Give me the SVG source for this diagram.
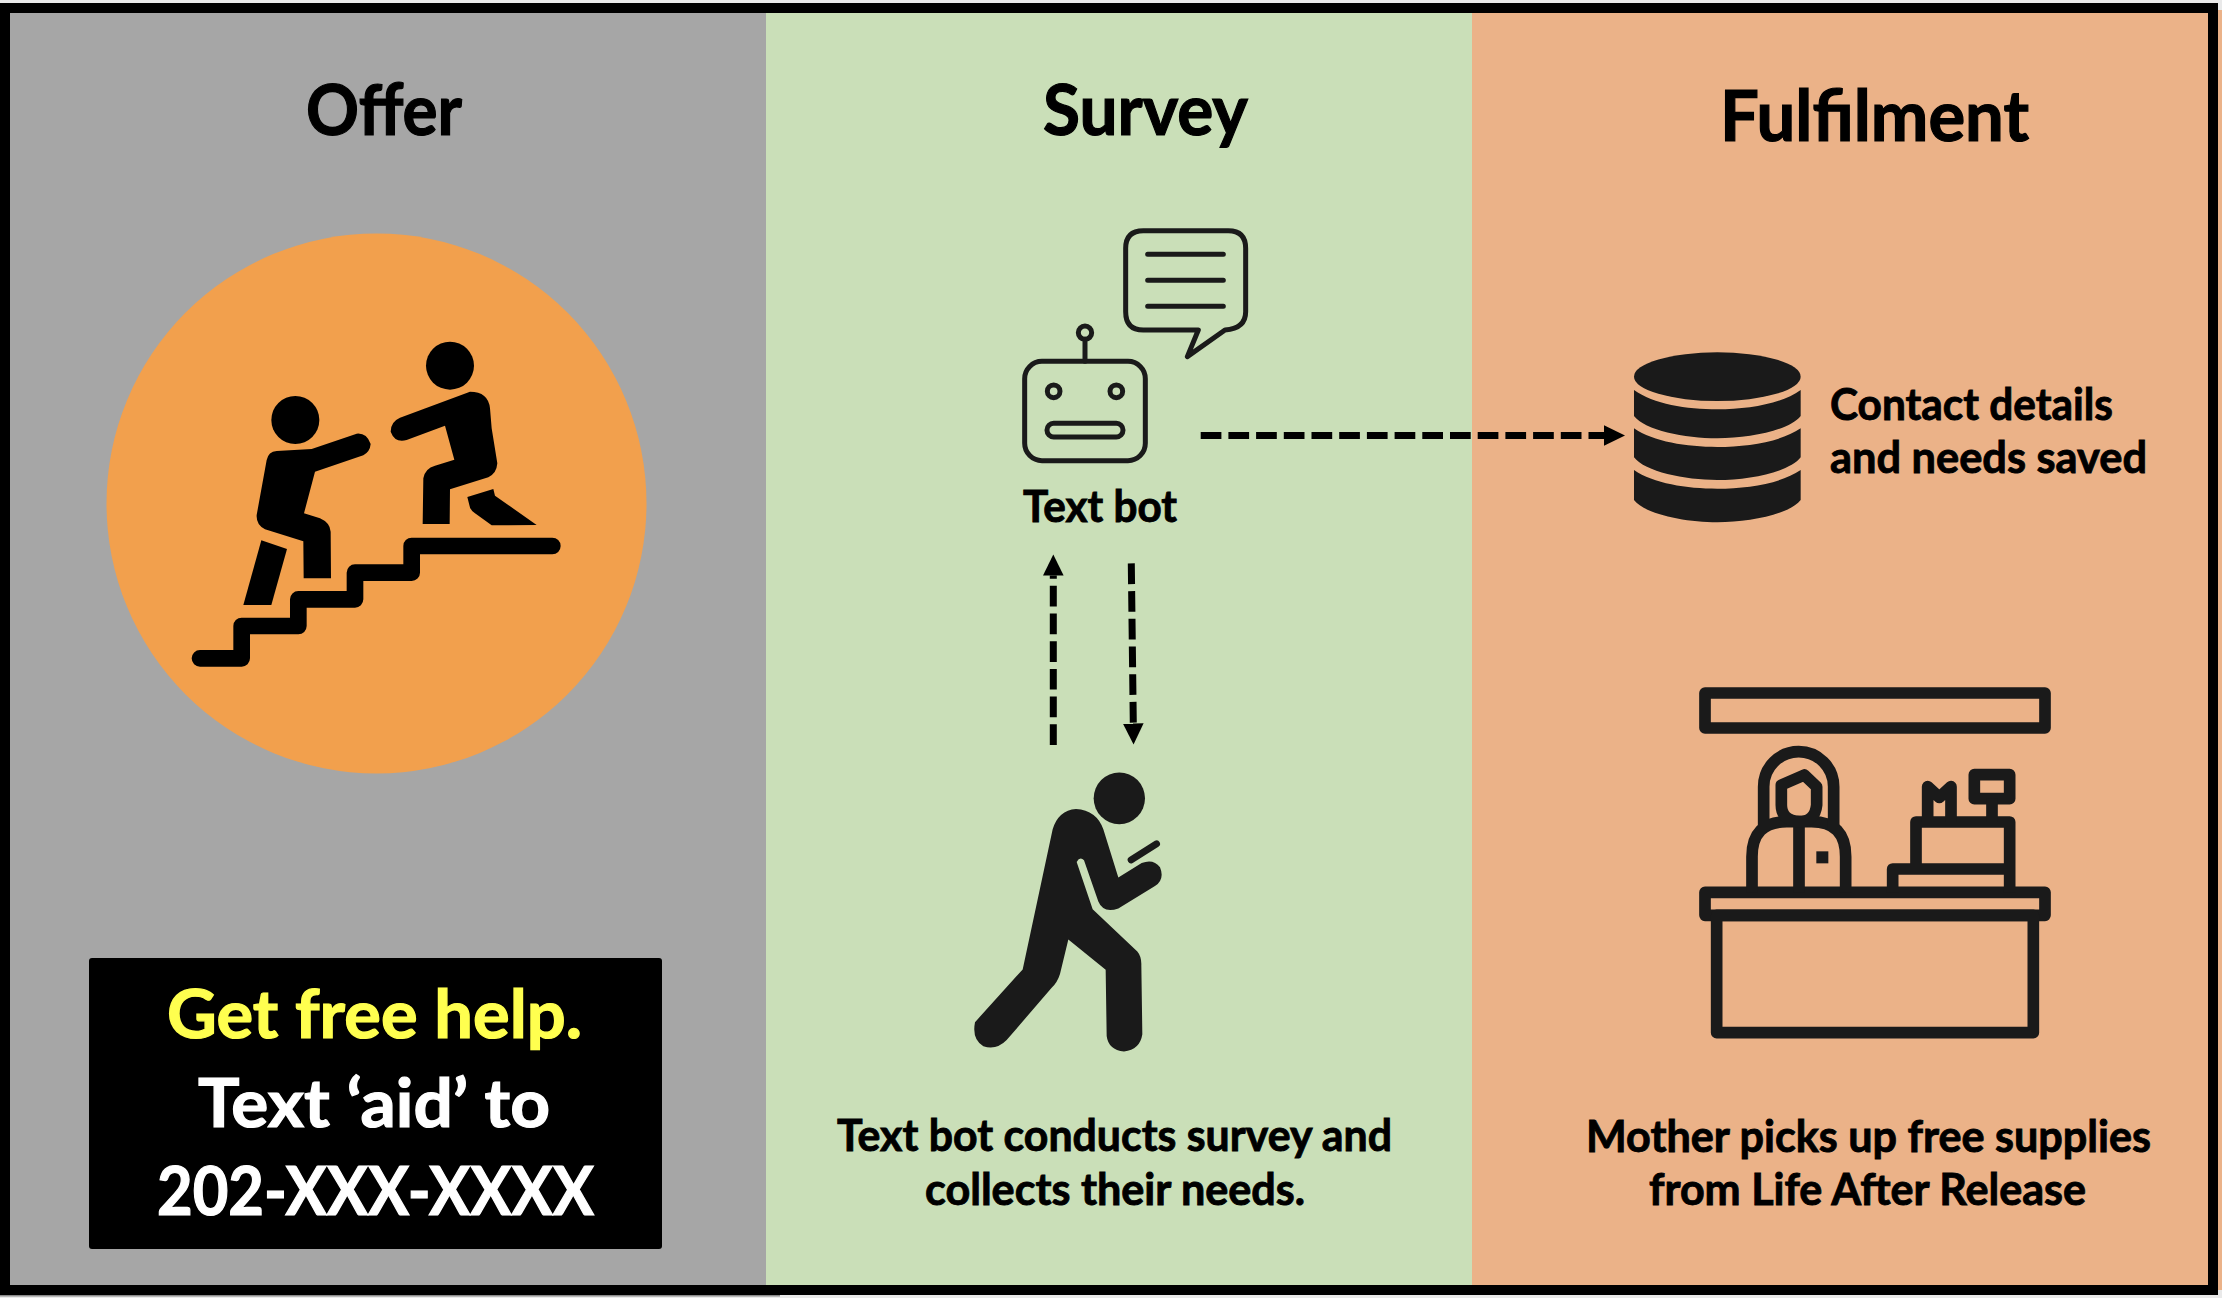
<svg xmlns="http://www.w3.org/2000/svg" width="2222" height="1298" viewBox="0 0 2222 1298">
<style>
.t{font-family:Lato,"Open Sans","Liberation Sans",sans-serif;font-weight:700;fill:#000;stroke:#000;stroke-width:.9}
.h{font-size:71px;stroke-width:1.2}
.b{font-size:44px}
.c{font-size:66px;stroke-width:1.2}
.y{fill:#ffff4f;stroke:#ffff4f}
.w{fill:#fff;stroke:#fff}
.ink{fill:#1a1a1a}
.blk{fill:#000}
.ol{fill:none;stroke:#1a1a1a;stroke-linejoin:round;stroke-linecap:round}
.dash{fill:none;stroke:#000;stroke-width:7;stroke-dasharray:20.7 7}
</style>
<defs>
<marker id="ah" markerUnits="userSpaceOnUse" markerWidth="22" markerHeight="22" refX="0" refY="10.5" orient="auto"><path d="M0 0.2L21 10.5L0 20.8Z" fill="#000"/></marker>
</defs>
<rect width="2222" height="1298" fill="#e9e9e9"/>
<g id="frame">
<rect x="2218" y="10" width="4" height="1280" fill="#ebb288"/>
<rect x="0" y="1295" width="780" height="1.5" fill="#8a8a8a"/>
<rect x="0" y="3" width="2218" height="1292" fill="#000"/>
<rect x="10" y="13" width="756" height="1272" fill="#a6a6a6"/>
<rect x="766" y="13" width="706" height="1272" fill="#cadfb8"/>
<rect x="1472" y="13" width="736" height="1272" fill="#ebb288"/>
</g>
<g id="offer">
<text class="t h" x="306" y="134.500" textLength="156" lengthAdjust="spacingAndGlyphs">Offer</text>
<circle cx="376.5" cy="503.5" r="270" fill="#f2a04d"/>
<g transform="translate(150 300) scale(.33333)">
<path d="M150 1075H275V978H445V898H615V818H785V738H1207" fill="none" stroke="#000" stroke-width="50" stroke-linecap="round" stroke-linejoin="round"/>
<circle class="blk" cx="436" cy="360" r="72"/>
<circle class="blk" cx="900" cy="197" r="72"/>
<path class="blk" d="M380 453L485 447L620 401Q650 398 662 432Q660 455 640 466L495 515L462 640L510 655Q540 668 542 695L543 835L461 835L460 724L345 688Q318 675 320 645L350 480Q355 455 380 453Z"/>
<path class="blk" d="M334 721L411 747L364 915L280 915Z"/>
<path class="blk" d="M960 275Q1015 275 1020 325L1025 385L1042 490Q1040 520 1015 532L900 568L899 672L818 672L820 535Q825 505 855 497L913 479L885 377L770 420Q735 430 722 395Q722 365 750 353Z"/>
<path class="blk" d="M952 591L1030 567L1035 587L1160 675L1025 676L975 640Q960 630 958 615Z"/>
</g>
</g>
<g id="callout">
<rect x="89" y="958" width="573" height="291" rx="3" fill="#000"/>
<text class="t c y" x="167" y="1038" textLength="415" lengthAdjust="spacingAndGlyphs">Get free help.</text>
<text class="t c w" x="198" y="1127" textLength="352" lengthAdjust="spacingAndGlyphs">Text ‘aid’ to</text>
<text class="t c w" x="157" y="1215" textLength="437" lengthAdjust="spacingAndGlyphs">202-XXX-XXXX</text>
</g>
<g id="survey">
<text class="t h" x="1043" y="134.500" textLength="205" lengthAdjust="spacingAndGlyphs">Survey</text>
</g>
<g id="text-bot">
<g transform="translate(980 200) scale(.33333)">
<path class="ol" stroke-width="15" d="M490 92H745Q797 92 797 145V335Q797 385 735 390L622 470L655 390H490Q437 390 437 335V145Q437 92 490 92Z"/>
<path class="ol" stroke-width="15" d="M503 163H730M503 241H730M503 319H730"/>
<rect class="ol" stroke-width="15" x="134" y="484" width="362" height="298" rx="52"/>
<circle class="ol" stroke-width="15" cx="315" cy="398" r="20"/>
<path class="ol" stroke-width="15" d="M315 418V484"/>
<circle class="ol" stroke-width="15" cx="221" cy="574" r="19"/>
<circle class="ol" stroke-width="15" cx="409" cy="574" r="19"/>
<rect class="ol" stroke-width="15" x="201" y="670" width="228" height="41" rx="20"/>
</g>
<text class="t b" x="1023" y="521.500" textLength="154" lengthAdjust="spacingAndGlyphs">Text bot</text>
</g>
<g id="mother-phone">
<g transform="translate(950 540) scale(.33333 .3444)">
<ellipse class="ink" cx="508" cy="750" rx="77" ry="75"/>
<path class="ink" d="M378 781Q440 785 460 840L505 980L575 938Q610 925 630 950Q645 985 615 1005L505 1070Q460 1085 445 1050L402 930Q390 918 380 935L428 1072L562 1195Q575 1210 574 1235L577 1435Q570 1480 522 1485Q475 1480 470 1440L467 1248L355 1160L330 1260Q322 1285 305 1300L170 1452Q140 1482 100 1470Q65 1450 75 1400L218 1247L308 840Q325 785 378 781Z"/>
<path d="M543 929L620 882" fill="none" stroke="#1a1a1a" stroke-width="20" stroke-linecap="round"/>
</g>
<text class="t b" x="837" y="1150.500" textLength="555" lengthAdjust="spacingAndGlyphs">Text bot conducts survey and</text>
<text class="t b" x="925" y="1204.500" textLength="380" lengthAdjust="spacingAndGlyphs">collects their needs.</text>
</g>
<g id="fulfilment">
<text class="t h" x="1720" y="141" textLength="309" lengthAdjust="spacingAndGlyphs">Fulfilment</text>
</g>
<g id="database">
<g transform="translate(1600 330) scale(.33333)">
<ellipse class="ink" cx="352" cy="140" rx="250" ry="73"/>
<path class="ink" d="M102 180C160 222 260 238 352 238C444 238 544 222 602 180V258C570 300 450 325 352 325C254 325 134 300 102 258Z"/>
<path class="ink" d="M102 295C160 335 260 351 352 351C444 351 544 335 602 295V382C570 425 450 450 352 450C254 450 134 425 102 382Z"/>
<path class="ink" d="M102 420C160 460 260 476 352 476C444 476 544 460 602 420V510C570 552 450 577 352 577C254 577 134 552 102 510Z"/>
</g>
<text class="t b" x="1830" y="420" textLength="283" lengthAdjust="spacingAndGlyphs">Contact details</text>
<text class="t b" x="1830" y="473" textLength="317" lengthAdjust="spacingAndGlyphs">and needs saved</text>
</g>
<g id="store">
<g transform="translate(1680 670) scale(.33333)">
<g class="ol" stroke-width="35" style="stroke-linecap:butt">
<rect x="75" y="69" width="1020" height="105"/>
<rect x="75" y="667" width="1020" height="69"/>
<rect x="110" y="736" width="950" height="352"/>
<path d="M216 667V560Q216 455 320 455H395Q497 455 497 560V667M357 455V667"/>
<path d="M251 480V350A105 105 0 0 1 461 350V480"/>
<path d="M304 345L373 315L410 350V405Q405 455 357 455Q304 450 304 405Z"/>
<path d="M708 597V456H989V667M638 667V597H989"/>
<path d="M743 456V350L778 382L813 350V456"/>
<rect x="883" y="314" width="106" height="72"/>
<path d="M936 386V456"/>
</g>
<rect class="ink" x="409" y="544" width="36" height="36"/>
</g>
<text class="t b" x="1586" y="1151.500" textLength="565" lengthAdjust="spacingAndGlyphs">Mother picks up free supplies</text>
<text class="t b" x="1649" y="1205" textLength="437" lengthAdjust="spacingAndGlyphs">from Life After Release</text>
</g>
<g id="connectors">
<path class="dash" d="M1200.7 435.5H1604" marker-end="url(#ah)"/>
<path class="dash" d="M1053.3 745V575.5" marker-end="url(#ah)"/>
<path class="dash" d="M1131.3 563.4L1133.3 723.5" marker-end="url(#ah)"/>
</g>
</svg>
